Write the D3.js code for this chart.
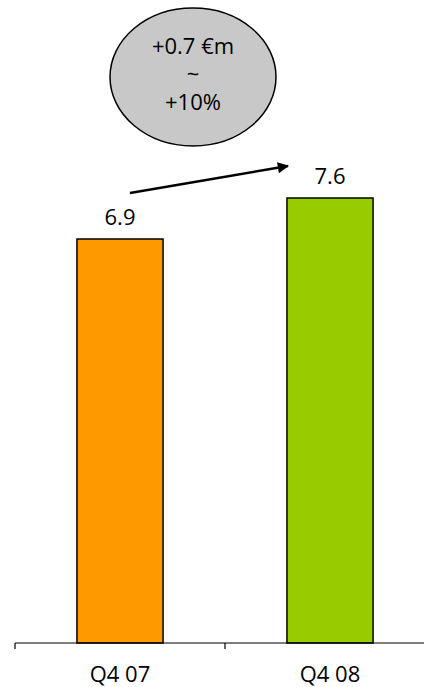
<!DOCTYPE html>
<html>
<head>
<meta charset="utf-8">
<script src="https://cdn.jsdelivr.net/npm/d3@7"></script>
<style>
  html, body { margin: 0; padding: 0; background: #fff; }
  svg { display: block; }
  text { font-family: "Open Sans", "Noto Sans", "DejaVu Sans", sans-serif; fill: #000; }
</style>
</head>
<body>
<svg id="chart" width="424" height="687"></svg>
<script>
const categories = ["Q4 07", "Q4 08"];
const values = [6.9, 7.6];
const valueLabels = ["6.9", "7.6"];
const barColors = ["#FF9900", "#99CC00"];
const bubbleLines = ["+0.7 €m", "~", "+10%"];

const svg = d3.select("#chart");
const baseY = 643;

const x = d3.scaleBand()
  .domain(categories)
  .range([15, 435])
  .paddingInner(0.59)
  .paddingOuter(0.295);

const y = d3.scaleLinear()
  .domain([0, 8])
  .range([baseY, baseY - 8 * (404 / 6.9)]);

// bars
svg.selectAll("rect.bar")
  .data(values)
  .enter().append("rect")
  .attr("class", "bar")
  .attr("x", (d, i) => x(categories[i]))
  .attr("y", d => y(d))
  .attr("width", x.bandwidth())
  .attr("height", d => y(0) - y(d))
  .attr("fill", (d, i) => barColors[i])
  .attr("stroke", "#000")
  .attr("stroke-width", 1.5);

// value labels
svg.selectAll("text.val")
  .data(values)
  .enter().append("text")
  .attr("class", "val")
  .attr("x", (d, i) => x(categories[i]) + x.bandwidth() / 2)
  .attr("y", d => y(d) - 14)
  .attr("text-anchor", "middle")
  .attr("font-size", 22)
  .text((d, i) => valueLabels[i]);

// axis line and ticks (band boundaries)
const step = x.step();
const r0 = x.range()[0];
const axisG = svg.append("g");
axisG.append("line")
  .attr("x1", r0).attr("x2", 424)
  .attr("y1", baseY).attr("y2", baseY)
  .attr("stroke", "#000").attr("stroke-width", 1.2);
d3.range(categories.length + 1).forEach(i => {
  axisG.append("line")
    .attr("x1", r0 + i * step).attr("x2", r0 + i * step)
    .attr("y1", baseY).attr("y2", baseY + 6)
    .attr("stroke", "#000").attr("stroke-width", 1.2);
});

// category labels
svg.selectAll("text.cat")
  .data(categories)
  .enter().append("text")
  .attr("class", "cat")
  .attr("x", d => x(d) + x.bandwidth() / 2)
  .attr("y", 682)
  .attr("text-anchor", "middle")
  .attr("font-size", 22)
  .text(d => d);

// arrow
const defs = svg.append("defs");
defs.append("marker")
  .attr("id", "arrowhead")
  .attr("viewBox", "0 0 10 10")
  .attr("refX", 9).attr("refY", 5)
  .attr("markerWidth", 5).attr("markerHeight", 4.5)
  .attr("markerUnits", "strokeWidth")
  .attr("orient", "auto")
  .append("path")
  .attr("d", "M0,0 L10,5 L0,10 Z")
  .attr("fill", "#000");

const ax1 = x(categories[0]) + x.bandwidth() / 2 + 10;
const ay1 = y(values[0]) - 46;
const ax2 = x(categories[1]) + 1;
const ay2 = y(values[1]) - 32;
svg.append("line")
  .attr("x1", ax1).attr("y1", ay1)
  .attr("x2", ax2).attr("y2", ay2)
  .attr("stroke", "#000")
  .attr("stroke-width", 2.5)
  .attr("marker-end", "url(#arrowhead)");

// bubble
const cx = 193, cy = 77;
svg.append("ellipse")
  .attr("cx", cx).attr("cy", cy)
  .attr("rx", 83).attr("ry", 69)
  .attr("fill", "#C8C8C8")
  .attr("stroke", "#000")
  .attr("stroke-width", 1.5);

svg.selectAll("text.bub")
  .data(bubbleLines)
  .enter().append("text")
  .attr("class", "bub")
  .attr("x", cx)
  .attr("y", (d, i) => 54 + i * 28)
  .attr("text-anchor", "middle")
  .attr("font-size", 22)
  .text(d => d);
</script>
</body>
</html>
